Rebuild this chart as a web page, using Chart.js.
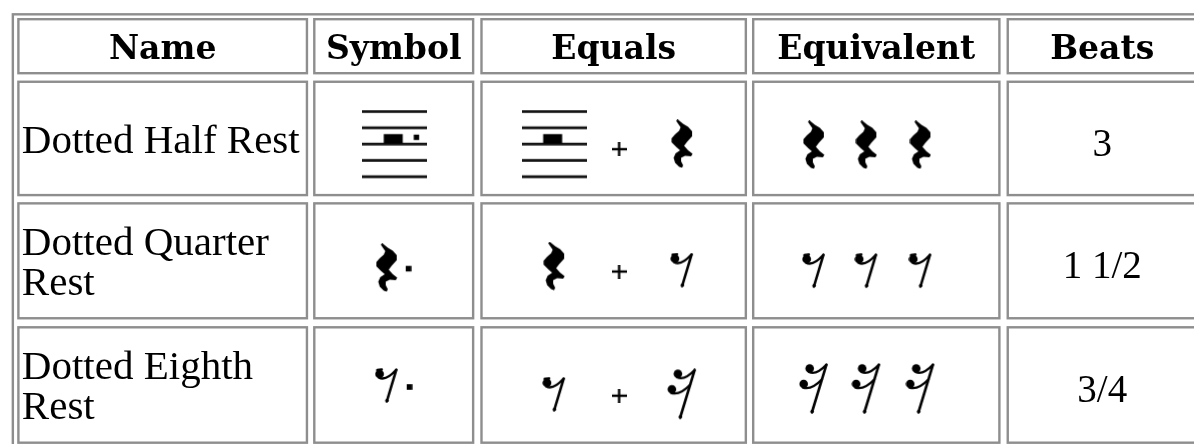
<!DOCTYPE html>
<html>
<head>
<meta charset="utf-8">
<title>Dotted Rests</title>
<script src="https://cdn.jsdelivr.net/npm/chart.js@4.4.1/dist/chart.umd.min.js"></script>
<style>
    html, body { margin: 0; padding: 0; background: #fff; overflow: hidden; }
    canvas { display: block; }
</style>
</head>
<body>
<canvas id="restTable" width="1194" height="444"></canvas>
<script>
// table content
const headers = ["Name", "Symbol", "Equals", "Equivalent", "Beats"];
const restNames = ["Dotted Half Rest", "Dotted Quarter Rest", "Dotted Eighth Rest"];
const symbolRests = ["half", "quarter", "eighth"]; // each one drawn dotted
const equalsRests = [["half", "quarter"], ["quarter", "eighth"], ["eighth", "sixteenth"]];
const equivalentRests = ["quarter", "eighth", "sixteenth"]; // written three times
const beatLabels = ["3", "1 1/2", "3/4"];

// layout (page pixels)
const W = 1194, H = 444;
const colEdges = [[12.3, 305.7], [310.7, 473.3], [479.3, 748.3], [753.3, 1004], [1010, 1203]];
const rowEdges = [[13.3, 71], [77.3, 195.7], [201.7, 321.7], [328.5, 449]];
const outerBox = [6.7, 8.3, 1208.7, 458];
const borderColor = "#8e8e8e";
const borderWidth = 2.4;
const headFont = "bold 33px 'DejaVu Serif'";
const bodyFont = "41px 'Liberation Serif'";
const beatFont = "39px 'Liberation Serif'";
const capHeight = 27;
const lineHeight = 41;

const symbolDy = { half: 6, quarter: 7, eighth: 1 };
const equalsDx = [-60, 5.5, 69];
const equalsDy = { half: 6, quarter: 5.5, eighth: 10, sixteenth: 9.5, plus: 11 };
const equivDx = [-63, -10, 44.5];
const equivDy = { quarter: 6.5, eighth: 10.5, sixteenth: 4 };

// rest glyphs drawn once into small canvases, used as point styles
function glyph(w, h, draw) {
    const c = document.createElement("canvas");
    c.width = w;
    c.height = h;
    const g = c.getContext("2d");
    g.fillStyle = "#000";
    g.strokeStyle = "#000";
    g.lineCap = "round";
    g.lineJoin = "round";
    draw(g);
    return c;
}

function drawStaff(g, dotted) {
    g.fillStyle = "#151515";
    for (let i = 0; i < 5; i++) g.fillRect(0, 0.3 + i * 16.3, 65, 2.8);
    g.fillStyle = "#000";
    g.fillRect(21.5, 24.3, 19, 9.5);
    if (dotted) g.fillRect(51.5, 24.8, 5.4, 5.4);
}

const quarterPts = [[6.5, 0], [12, 4.5], [17, 7.5], [21, 12], [21, 17], [16, 22.5], [13, 26.5], [17, 31], [21.5, 34.5],
    [20, 37], [14, 36.5], [10, 38.5], [10, 42], [12, 46], [11, 48.5], [8, 47.5], [4, 43.5], [2.5, 38.5],
    [4.5, 34], [9, 31], [5.5, 28], [0.5, 23], [0.5, 19], [4, 15], [8, 11.5], [9.5, 8], [5, 1.5]];

function drawQuarter(g) {
    g.beginPath();
    quarterPts.forEach((p, i) => i ? g.lineTo(p[0], p[1]) : g.moveTo(p[0], p[1]));
    g.closePath();
    g.fill();
}

function drawEighth(g) {
    g.beginPath(); g.arc(4.8, 6, 4.4, 0, Math.PI * 2); g.fill();
    g.lineWidth = 2.4;
    g.beginPath(); g.moveTo(2.5, 2); g.lineTo(7, 1.5); g.stroke();
    g.beginPath(); g.moveTo(4, 9.5); g.quadraticCurveTo(11, 13.5, 21.5, 1.8); g.stroke();
    g.lineWidth = 2.6;
    g.beginPath(); g.moveTo(21.5, 1.8); g.lineTo(12, 33.5); g.stroke();
    g.beginPath(); g.arc(12.3, 32.5, 1.8, 0, Math.PI * 2); g.fill();
}

function drawSixteenth(g) {
    g.lineWidth = 2.6;
    g.beginPath(); g.moveTo(27.5, 1.8); g.lineTo(13, 49.5); g.stroke();
    g.beginPath(); g.arc(10.8, 5.5, 4.3, 0, Math.PI * 2); g.fill();
    g.beginPath(); g.arc(4.8, 21, 4.3, 0, Math.PI * 2); g.fill();
    g.lineWidth = 2.4;
    g.beginPath(); g.moveTo(10, 9) ; g.quadraticCurveTo(17.5, 12.5, 27.5, 1.8); g.stroke();
    g.beginPath(); g.moveTo(4, 24.5); g.quadraticCurveTo(12.5, 27.5, 23, 16.5); g.stroke();
    g.beginPath(); g.arc(13.3, 48.5, 1.8, 0, Math.PI * 2); g.fill();
}

const glyphSizes = { half: [65, 69], quarter: [22, 49], eighth: [24, 36], sixteenth: [30, 52] };
const glyphDraw = { half: g => drawStaff(g, false), quarter: drawQuarter, eighth: drawEighth, sixteenth: drawSixteenth };

const glyphs = {};
Object.keys(glyphSizes).forEach(k => {
    glyphs[k] = glyph(glyphSizes[k][0], glyphSizes[k][1], glyphDraw[k]);
    // dotted version for the Symbol column
    if (k === "half") {
        glyphs[k + "."] = glyph(65, 69, g => drawStaff(g, true));
    } else {
        const [w, h] = glyphSizes[k];
        glyphs[k + "."] = glyph(w + 14, h, g => {
            glyphDraw[k](g);
            g.fillRect(w + 8, h / 2 - 1.8, 5.6, 5.6);
        });
    }
});
glyphs.plus = glyph(15, 14, g => {
    g.fillRect(6.3, 0, 2.4, 14);
    g.fillRect(0, 5.8, 15, 2.4);
});

const colCenter = i => (colEdges[i][0] + colEdges[i][1]) / 2;
const rowCenter = i => (rowEdges[i][0] + rowEdges[i][1]) / 2;

// one point per glyph
const marks = [];
restNames.forEach((name, r) => {
    const cy = rowCenter(r + 1);
    const s = symbolRests[r];
    marks.push({ x: colCenter(1) + (s === "half" ? 1 : 0), y: cy + symbolDy[s], g: s + "." });
    const [a, b] = equalsRests[r];
    marks.push({ x: colCenter(2) + equalsDx[0], y: cy + equalsDy[a], g: a });
    marks.push({ x: colCenter(2) + equalsDx[1], y: cy + equalsDy.plus, g: "plus" });
    marks.push({ x: colCenter(2) + equalsDx[2], y: cy + equalsDy[b], g: b });
    const e = equivalentRests[r];
    equivDx.forEach(dx => marks.push({ x: colCenter(3) + dx, y: cy + equivDy[e], g: e }));
});

function strokeBox(ctx, xs, ys, x0, y0, x1, y1) {
    const px0 = xs.getPixelForValue(x0), px1 = xs.getPixelForValue(x1);
    const py0 = ys.getPixelForValue(y0), py1 = ys.getPixelForValue(y1);
    const hb = borderWidth / 2;
    ctx.strokeRect(px0 + hb, py0 + hb, px1 - px0 - borderWidth, py1 - py0 - borderWidth);
}

function wrapText(ctx, text, maxW) {
    const words = text.split(" ");
    const lines = [];
    let line = "";
    words.forEach(w => {
        const test = line ? line + " " + w : w;
        if (line && ctx.measureText(test).width > maxW) {
            lines.push(line);
            line = w;
        } else {
            line = test;
        }
    });
    lines.push(line);
    return lines;
}

const tableDrawer = {
    id: "tableDrawer",
    beforeDatasetsDraw(chart) {
        const { ctx, scales: { x, y } } = chart;
        ctx.save();
        ctx.fillStyle = "#fff";
        ctx.fillRect(0, 0, chart.width, chart.height);
        ctx.strokeStyle = borderColor;
        ctx.lineWidth = borderWidth;
        strokeBox(ctx, x, y, ...outerBox);
        rowEdges.forEach(r => colEdges.forEach(c => strokeBox(ctx, x, y, c[0], r[0], c[1], r[1])));
        ctx.restore();
    },
    afterDatasetsDraw(chart) {
        const { ctx, scales: { x, y } } = chart;
        ctx.save();
        ctx.fillStyle = "#000";
        ctx.textBaseline = "alphabetic";

        // header row
        ctx.font = headFont;
        ctx.textAlign = "center";
        headers.forEach((h, i) => {
            ctx.fillText(h, x.getPixelForValue(colCenter(i)), y.getPixelForValue(rowCenter(0) + 13));
        });

        // rest names, wrapped inside the first column
        ctx.font = bodyFont;
        ctx.textAlign = "left";
        restNames.forEach((name, r) => {
            const lines = wrapText(ctx, name, 284);
            const blockH = capHeight + (lines.length - 1) * lineHeight;
            const base = rowCenter(r + 1) - blockH / 2 + capHeight + 1;
            lines.forEach((ln, i) => {
                ctx.fillText(ln, x.getPixelForValue(17), y.getPixelForValue(base + i * lineHeight));
            });
        });

        // beats
        ctx.font = beatFont;
        ctx.textAlign = "center";
        beatLabels.forEach((b, r) => {
            ctx.fillText(b, x.getPixelForValue(colCenter(4)), y.getPixelForValue(rowCenter(r + 1) + 17.5));
        });
        ctx.restore();
    }
};

new Chart(document.getElementById("restTable"), {
    type: "scatter",
    data: {
        datasets: [{
            data: marks,
            pointStyle: ctx => glyphs[ctx.raw.g],
            pointRadius: 3,
            clip: false
        }]
    },
    options: {
        responsive: false,
        animation: false,
        events: [],
        layout: { padding: 0 },
        plugins: { legend: { display: false }, tooltip: { enabled: false } },
        scales: {
            x: { type: "linear", min: 0, max: W, display: false },
            y: { type: "linear", min: 0, max: H, reverse: true, display: false }
        }
    },
    plugins: [tableDrawer]
});
</script>
</body>
</html>
